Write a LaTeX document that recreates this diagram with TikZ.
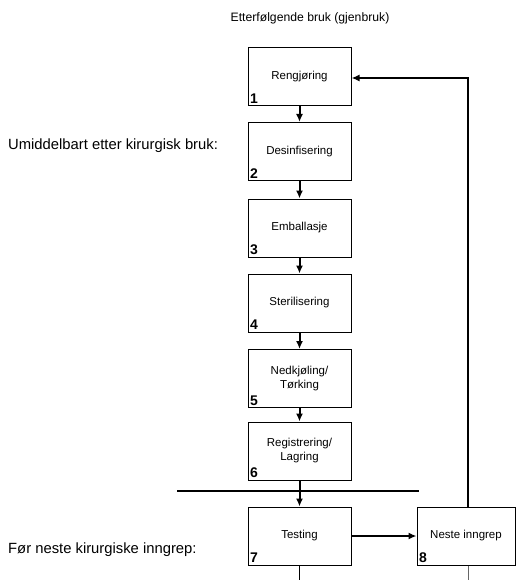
\documentclass[tikz,border=0pt]{standalone}
\usepackage{fontspec}
\setmainfont{Liberation Sans}
\usetikzlibrary{arrows.meta}
\begin{document}
\begin{tikzpicture}[x=1pt,y=-1pt,
  stepbox/.style={draw,line width=1pt,minimum width=103pt,minimum height=58pt,
    inner sep=0pt,align=center,font=\fontsize{11.5}{14}\selectfont},
  numlabel/.style={font=\bfseries\fontsize{14}{16}\selectfont,inner sep=0pt,anchor=south west},
  flow/.style={line width=2pt,-{Latex[length=8pt,width=7pt]}},
  sidelabel/.style={font=\fontsize{14.8}{17}\selectfont,anchor=west,inner sep=0pt},
  tail/.style={line width=0.8pt}]
\useasboundingbox (0,0) rectangle (516,580);

% headings
\node[font=\fontsize{12.2}{14}\selectfont] (top) at (310,18) {Etterfølgende bruk (gjenbruk)};
\node[sidelabel] (umid) at (8,146) {Umiddelbart etter kirurgisk bruk:};
\node[sidelabel] (foer) at (8,550) {Før neste kirurgiske inngrep:};

% process boxes
\node[stepbox] (b1) at (299.5,77)  {Rengjøring};
\node[stepbox] (b2) at (299.5,151.5) {Desinfisering};
\node[stepbox] (b3) at (299.5,228) {Emballasje};
\node[stepbox] (b4) at (299.5,303) {Sterilisering};
\node[stepbox] (b5) at (299.5,378.5) {Nedkjøling/\\Tørking};
\node[stepbox] (b6) at (299.5,451) {Registrering/\\Lagring};
\node[stepbox] (b7) at (299.5,536) {Testing};
\node[stepbox,minimum width=98pt] (b8) at (466,536) {Neste inngrep};

% step numbers
\foreach \n in {1,...,8}
  \node[numlabel] (n\n) at ([xshift=2.5pt,yshift=2.5pt]b\n.south west) {\n};

% separator between storage and testing
\coordinate (sepL) at (177,491);
\coordinate (sepR) at (419,491);
\draw[line width=1.8pt] (sepL) -- (sepR);

% main flow
\draw[flow] (b1) -- (b2);
\draw[flow] (b2) -- (b3);
\draw[flow] (b3) -- (b4);
\draw[flow] (b4) -- (b5);
\draw[flow] (b5) -- (b6);
\draw[flow] (b6) -- (b7);
\draw[flow] (b7) -- (b8);

% return to cleaning
\coordinate (corner) at (468,78);
\draw[flow] (b8.north -| corner) -- (corner) -- (b1.east |- corner);

% open ends at the bottom
\coordinate (e7) at (299.5,580);
\coordinate (e8) at (468,580);
\draw[tail] (b7.south) -- (e7);
\draw[tail,black!60] (b8.south -| e8) -- (e8);
\end{tikzpicture}
\end{document}
